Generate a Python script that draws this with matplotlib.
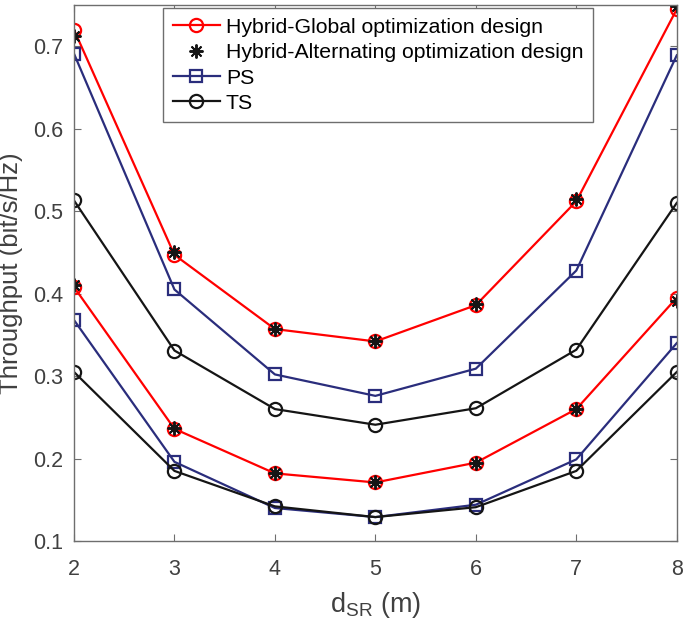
# Throughput vs d_SR，两组曲线（每种方案两条）

import numpy as np
import matplotlib.pyplot as plt

plt.rcParams['font.family'] = ['Liberation Sans', 'DejaVu Sans']
plt.rcParams['mathtext.fontset'] = 'custom'
plt.rcParams['mathtext.rm'] = 'Liberation Sans'

d_sr = [2, 3, 4, 5, 6, 7, 8]

# 上面一组
global_hi = [0.720, 0.447, 0.357, 0.342, 0.386, 0.512, 0.745]
alt_hi = [0.713, 0.450, 0.357, 0.342, 0.387, 0.515, 0.749]
ps_hi = [0.691, 0.405, 0.302, 0.276, 0.309, 0.428, 0.689]
ts_hi = [0.513, 0.331, 0.260, 0.241, 0.261, 0.332, 0.510]

# 下面一组
global_lo = [0.408, 0.236, 0.182, 0.171, 0.195, 0.260, 0.395]
alt_lo = [0.410, 0.237, 0.182, 0.171, 0.195, 0.260, 0.391]
ps_lo = [0.368, 0.196, 0.140, 0.129, 0.144, 0.199, 0.340]
ts_lo = [0.305, 0.185, 0.142, 0.129, 0.141, 0.185, 0.305]

red = '#ff0000'
navy = '#2a2d7c'
blk = '#151515'
axc = '#6e6e6e'
txt = '#404040'

fig = plt.figure(figsize=(6.85, 6.24), dpi=100)
ax = fig.add_axes([0.108, 0.133, 0.880, 0.859])

lw = 1.6
for g, a, p, t, lab in [(global_hi, alt_hi, ps_hi, ts_hi, True),
                        (global_lo, alt_lo, ps_lo, ts_lo, False)]:
    ax.plot(d_sr, g, '-o', color=red, lw=lw, ms=9.5, mfc='none', mew=1.6,
            label='Hybrid-Global optimization design' if lab else None)
    ax.plot(d_sr, a, ls='none', marker=(8, 2, 0), color=blk, ms=10, mew=1.4,
            label='Hybrid-Alternating optimization design' if lab else None)
    ax.plot(d_sr, p, '-s', color=navy, lw=lw, ms=9, mfc='none', mew=1.6,
            label='PS' if lab else None)
    ax.plot(d_sr, t, '-o', color=blk, lw=lw, ms=9.5, mfc='none', mew=1.6,
            label='TS' if lab else None)

ax.set_xlim(2, 8)
ax.set_ylim(0.1, 0.75)
ax.set_xticks(d_sr)
ax.set_yticks([0.1, 0.2, 0.3, 0.4, 0.5, 0.6, 0.7])
ax.set_yticklabels(['0.1', '0.2', '0.3', '0.4', '0.5', '0.6', '0.7'])

ax.tick_params(direction='in', top=True, right=True, length=5, width=0.8,
               colors=axc, labelcolor=txt, labelsize=15.5)
ax.tick_params(axis='x', pad=13)
ax.tick_params(axis='y', pad=8)
for s in ax.spines.values():
    s.set_color(axc)
    s.set_linewidth(1.0)

ax.set_xlabel(r'd$_{\mathrm{SR}}$ (m)', fontsize=19.5, color=txt)
ax.set_ylabel('Throughput (bit/s/Hz)', fontsize=18.5, color=txt)
ax.xaxis.set_label_coords(0.5, -0.091)
ax.yaxis.set_label_coords(-0.084, 0.5)

leg = ax.legend(loc='upper left', bbox_to_anchor=(0.148, 0.994), fontsize=15.3,
                frameon=True, fancybox=False, edgecolor=axc, framealpha=1,
                borderpad=0.45, labelspacing=0.3, handlelength=2.2,
                handletextpad=0.3, borderaxespad=0)
leg.get_frame().set_linewidth(1.0)

plt.savefig('out.png', dpi=100)
